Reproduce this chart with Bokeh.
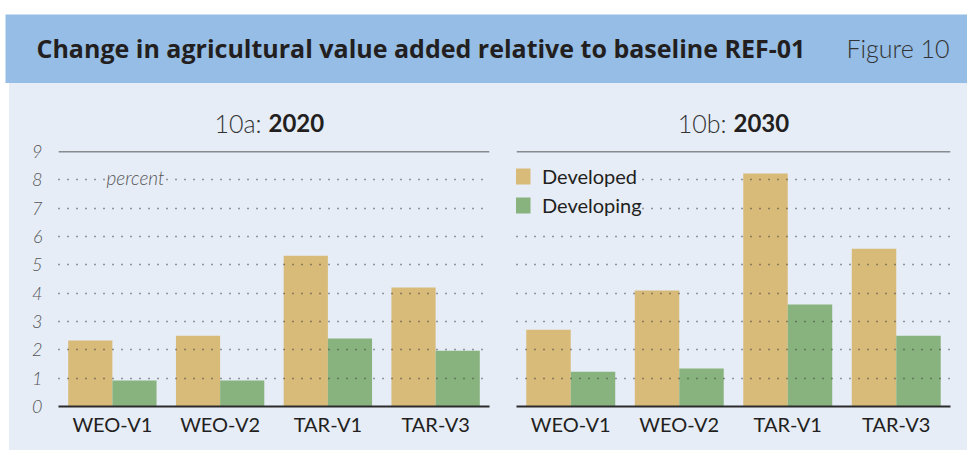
from bokeh.plotting import figure
from bokeh.layouts import column, row
from bokeh.models import (Range1d, FactorRange, FixedTicker, Span, Label, Legend,
                          LegendItem, ColumnDataSource, Spacer)
from bokeh.transform import dodge
from bokeh.embed import file_html
from bokeh.resources import INLINE

# ---------------- data ----------------
categories = ["WEO-V1", "WEO-V2", "TAR-V1", "TAR-V3"]
developed_2020 = [2.33, 2.50, 5.32, 4.20]
developing_2020 = [0.92, 0.92, 2.40, 1.97]
developed_2030 = [2.71, 4.09, 8.22, 5.57]
developing_2030 = [1.23, 1.34, 3.60, 2.50]
y_ticks = [0, 1, 2, 3, 4, 5, 6, 7, 8, 9]
grid_ticks = [1, 2, 3, 4, 5, 6, 7, 8]
series_names = ["Developed", "Developing"]

title_text = "Change in agricultural value added relative to baseline REF-01"
figure_text = "Figure 10"
panel_prefix = ["10a:", "10b:"]
panel_year = ["2020", "2030"]
unit_text = "percent"

# ---------------- style ----------------
TAN = "#D8BB78"
GREEN = "#88B37E"
PANEL = "#E6EDF7"
HEADER = "#95BDE5"
DARK = "#231F20"
GREY = "#555555"
FONT = "Lato"
LIGHT = "Lato Light"


def make_panel(devd, devg, width, left, right, show_y):
    src = ColumnDataSource(dict(cat=categories, developed=devd, developing=devg))
    p = figure(width=width, height=312, title=None,
               x_range=FactorRange(factors=categories, range_padding=0),
               y_range=Range1d(0, 9),
               toolbar_location=None, output_backend="svg",
               min_border_left=left, min_border_right=right,
               min_border_top=13, min_border_bottom=44)
    p.background_fill_color = PANEL
    p.border_fill_color = PANEL
    p.outline_line_color = None

    r1 = p.vbar(x=dodge("cat", -0.205, range=p.x_range), top="developed", width=0.41,
                source=src, fill_color=TAN, line_color=None)
    r2 = p.vbar(x=dodge("cat", 0.205, range=p.x_range), top="developing", width=0.41,
                source=src, fill_color=GREEN, line_color=None)

    p.xgrid.visible = False
    p.ygrid.ticker = FixedTicker(ticks=grid_ticks)
    p.ygrid.grid_line_color = "#3a3a3a"
    p.ygrid.grid_line_dash = "1 8"
    p.ygrid.grid_line_width = 1.5
    p.ygrid.level = "guide"

    p.add_layout(Span(location=9, dimension="width", line_color="#2b2b2b", line_width=1.5))

    p.xaxis.axis_line_color = "#2b2b2b"
    p.xaxis.axis_line_width = 2
    p.xaxis.major_tick_line_color = None
    p.xaxis.minor_tick_line_color = None
    p.xaxis.major_label_text_font = FONT
    p.xaxis.major_label_text_font_size = "20px"
    p.xaxis.major_label_text_color = DARK
    p.xaxis.major_label_standoff = -1

    if show_y:
        p.yaxis.ticker = FixedTicker(ticks=y_ticks)
        p.yaxis.axis_line_color = None
        p.yaxis.major_tick_line_color = None
        p.yaxis.minor_tick_line_color = None
        p.yaxis.major_label_text_font = LIGHT
        p.yaxis.major_label_text_font_style = "italic"
        p.yaxis.major_label_text_font_size = "18px"
        p.yaxis.major_label_text_color = GREY
        p.yaxis.major_label_standoff = 10
    else:
        p.yaxis.visible = False
    return p, r1, r2


# panels: left figure spans page x 9..502, right 502..967
left, l1, l2 = make_panel(developed_2020, developing_2020, 493, 49, 13, True)
right, r1, r2 = make_panel(developed_2030, developing_2030, 465, 14, 17, False)

left.add_layout(Label(x=48, y=229, x_units="screen", y_units="screen", text=unit_text,
                      text_font=LIGHT, text_font_style="italic", text_font_size="19px",
                      text_color=GREY, text_baseline="middle",
                      background_fill_color=PANEL, background_fill_alpha=1.0))

legend = Legend(items=[LegendItem(label=series_names[0], renderers=[r1]),
                       LegendItem(label=series_names[1], renderers=[r2])],
                location=(-4, 189), glyph_width=20, glyph_height=20, label_standoff=10,
                label_text_font=FONT, label_text_font_size="20px", label_text_color=DARK,
                spacing=5, padding=8, margin=0,
                background_fill_color=PANEL, background_fill_alpha=1.0,
                border_line_color=None)
right.add_layout(legend)

# ---------------- sub-titles strip (page y 83..138, x 9..967) ----------------
s = figure(width=958, height=55, title=None, x_range=(0, 1), y_range=(0, 1),
           toolbar_location=None, output_backend="svg", min_border=0)
s.axis.visible = False
s.grid.visible = False
s.outline_line_color = None
s.background_fill_color = PANEL
s.border_fill_color = PANEL
for xr, pre, yr in ((252, panel_prefix[0], panel_year[0]), (717, panel_prefix[1], panel_year[1])):
    s.add_layout(Label(x=xr, y=16, x_units="screen", y_units="screen", text=pre,
                       text_font=LIGHT, text_font_size="25px", text_color="#333333",
                       text_align="right", text_baseline="middle"))
    s.add_layout(Label(x=xr + 7, y=16, x_units="screen", y_units="screen", text=yr,
                       text_font=FONT, text_font_style="bold", text_font_size="24px",
                       text_color=DARK, text_align="left", text_baseline="middle"))

# ---------------- header (page y 14..83, x 5..967) ----------------
h = figure(width=962, height=69, title=None, x_range=(0, 1), y_range=(0, 1),
           toolbar_location=None, output_backend="svg", min_border=0)
h.axis.visible = False
h.grid.visible = False
h.outline_line_color = None
h.background_fill_color = HEADER
h.border_fill_color = HEADER
h.add_layout(Label(x=31, y=36, x_units="screen", y_units="screen", text=title_text,
                   text_font="Open Sans", text_font_style="bold", text_font_size="25px",
                   text_color=DARK, text_baseline="middle"))
h.add_layout(Label(x=944, y=36, x_units="screen", y_units="screen", text=figure_text,
                   text_font=LIGHT, text_font_size="25px",
                   text_color="#333333", text_align="right", text_baseline="middle"))

panel_block = column(s, row(left, right, spacing=0), spacing=0,
                     styles={"background-color": PANEL})

layout = column(
    Spacer(width=967, height=14),
    row(Spacer(width=5, height=69), h, spacing=0),
    row(Spacer(width=9, height=367), panel_block, spacing=0),
    spacing=0,
)

open("out.html", "w").write(file_html(layout, INLINE))
